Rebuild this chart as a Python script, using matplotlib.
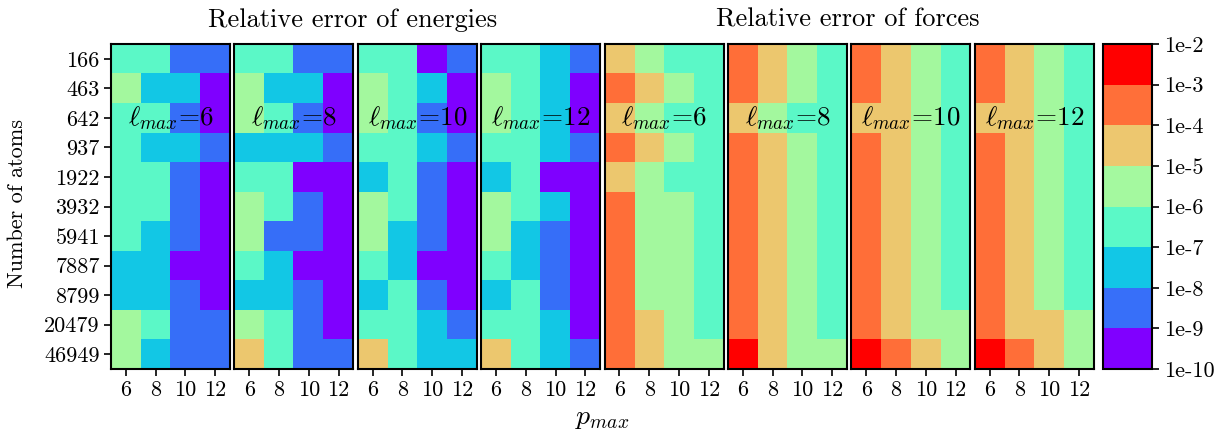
import numpy as np
import matplotlib
matplotlib.use("Agg")
import matplotlib.pyplot as plt
from matplotlib.colors import LogNorm

plt.rcParams["font.family"] = "serif"
plt.rcParams["font.serif"] = ["cmr10"]
plt.rcParams["mathtext.fontset"] = "cm"
plt.rcParams["axes.formatter.use_mathtext"] = True

atoms = ["166", "463", "642", "937", "1922", "3932", "5941", "7887", "8799", "20479", "46949"]
pmax = [6, 8, 10, 12]
lmax = [6, 8, 10, 12]

# decade codes: 0 -> [1e-10,1e-9), 1 -> [1e-9,1e-8), ... 7 -> [1e-3,1e-2)
energy_codes = {
    6: [[3, 3, 1, 1], [4, 2, 2, 0], [3, 3, 1, 0], [3, 2, 2, 1], [3, 3, 1, 0], [3, 3, 1, 0],
        [3, 2, 1, 0], [2, 2, 0, 0], [2, 2, 1, 0], [4, 3, 1, 1], [4, 2, 1, 1]],
    8: [[3, 3, 1, 1], [4, 2, 2, 0], [4, 3, 1, 0], [2, 2, 2, 1], [3, 3, 0, 0], [4, 3, 1, 0],
        [4, 1, 1, 0], [3, 2, 0, 0], [2, 2, 1, 0], [4, 3, 1, 0], [5, 3, 1, 1]],
    10: [[3, 3, 0, 1], [4, 3, 2, 0], [4, 3, 1, 0], [3, 3, 2, 1], [2, 3, 1, 0], [4, 3, 1, 0],
         [4, 2, 1, 0], [3, 2, 0, 0], [2, 3, 1, 0], [3, 3, 2, 1], [5, 3, 2, 2]],
    12: [[3, 3, 2, 1], [4, 3, 2, 0], [4, 3, 2, 0], [3, 3, 2, 1], [2, 3, 0, 0], [4, 3, 2, 0],
         [4, 2, 1, 0], [3, 2, 1, 0], [2, 3, 1, 0], [3, 3, 2, 0], [5, 3, 2, 1]],
}
force_codes = {
    6: [[5, 4, 3, 3], [6, 5, 4, 3], [5, 4, 3, 3], [6, 5, 4, 3], [5, 4, 3, 3], [6, 4, 4, 3],
        [6, 4, 4, 3], [6, 4, 4, 3], [6, 4, 4, 3], [6, 5, 4, 3], [6, 5, 4, 4]],
    8: [[6, 5, 4, 3], [6, 5, 4, 3], [5, 4, 3, 3], [6, 5, 4, 3], [6, 5, 4, 3], [6, 5, 4, 3],
        [6, 5, 4, 3], [6, 5, 4, 3], [6, 5, 4, 3], [6, 5, 4, 3], [7, 5, 4, 4]],
    10: [[6, 5, 4, 3], [6, 5, 4, 3], [5, 5, 4, 3], [6, 5, 4, 3], [6, 5, 4, 3], [6, 5, 4, 3],
         [6, 5, 4, 3], [6, 5, 4, 3], [6, 5, 4, 3], [6, 5, 4, 4], [7, 6, 5, 4]],
    12: [[6, 5, 4, 3], [6, 5, 4, 3], [5, 5, 4, 3], [6, 5, 4, 3], [6, 5, 4, 3], [6, 5, 4, 3],
         [6, 5, 4, 3], [6, 5, 4, 3], [6, 5, 4, 3], [6, 5, 5, 4], [7, 6, 5, 4]],
}
cbar_labels = ["1e-10", "1e-9", "1e-8", "1e-7", "1e-6", "1e-5", "1e-4", "1e-3", "1e-2"]


def to_err(codes):
    return 10.0 ** (np.array(codes, dtype=float) - 9.5)


W, H = 1220, 432
fig = plt.figure(figsize=(W / 100, H / 100), dpi=100)
cmap = plt.get_cmap("rainbow", 8)
norm = LogNorm(vmin=1e-10, vmax=1e-2)

panels = [energy_codes[l] for l in lmax] + [force_codes[l] for l in lmax]
names = lmax + lmax
bottom, top = 63, 44
for i, (codes, l) in enumerate(zip(panels, names)):
    left = 111 + 123.4 * i
    ax = fig.add_axes([left / W, bottom / H, 119 / W, (H - bottom - top) / H])
    im = ax.imshow(to_err(codes), cmap=cmap, norm=norm, aspect="auto")
    ax.set_xticks(range(len(pmax)))
    ax.set_xticklabels([str(p) for p in pmax], fontsize=16)
    if i == 0:
        ax.set_yticks(range(len(atoms)))
        ax.set_yticklabels(atoms, fontsize=16)
    else:
        ax.set_yticks([])
    ax.tick_params(length=5, width=1.2, pad=3)
    for s in ax.spines.values():
        s.set_linewidth(1.5)
    ax.text(1.5, 2, r"$\ell_{max}$=" + str(l), ha="center", va="center", fontsize=19.5)

cax = fig.add_axes([1103 / W, bottom / H, 49 / W, (H - bottom - top) / H])
cb = fig.colorbar(im, cax=cax)
cb.set_ticks([10.0 ** k for k in range(-10, -1)])
cb.set_ticklabels(cbar_labels)
cb.ax.minorticks_off()
cb.ax.tick_params(labelsize=16, length=5, width=1.2)
cb.outline.set_linewidth(1.5)

fig.text(353 / W, 1 - 20 / H, "Relative error of energies", ha="center", va="center", fontsize=19)
fig.text(848 / W, 1 - 20 / H, "Relative error of forces", ha="center", va="center", fontsize=19)
fig.text(602 / W, 1 - 418 / H, r"$p_{max}$", ha="center", va="center", fontsize=20)
fig.text(17 / W, 1 - 203 / H, "Number of atoms", ha="center", va="center", rotation=90, fontsize=16)

fig.savefig("out.png", dpi=100)
